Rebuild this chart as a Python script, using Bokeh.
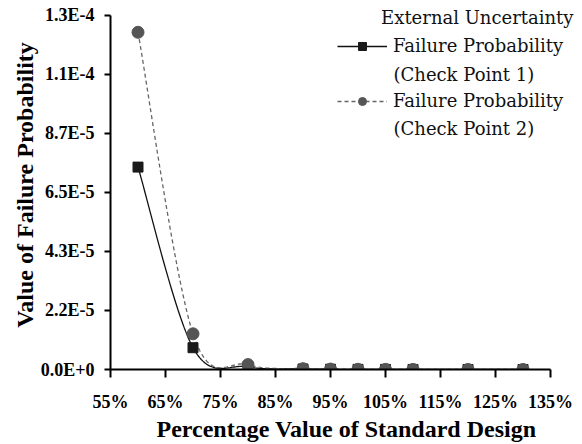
import numpy as np
from bokeh.plotting import figure
from bokeh.models import Range1d, FixedTicker, Legend, LegendItem, Label, CustomJSTickFormatter
from bokeh.embed import file_html
from bokeh.resources import INLINE

# ---- data ----
design_pct = [60, 70, 80, 90, 95, 100, 105, 110, 120, 130]
fp_check1 = [7.43e-5, 8.0e-6, 1.0e-6, 2.0e-7, 1.0e-7, 5e-8, 3e-8, 2e-8, 1e-8, 5e-9]
fp_check2 = [1.238e-4, 1.31e-5, 1.8e-6, 3.0e-7, 1.5e-7, 8e-8, 5e-8, 3e-8, 1.5e-8, 1e-8]

x_ticks = [55, 65, 75, 85, 95, 105, 115, 125, 135]
x_tick_labels = ["55%", "65%", "75%", "85%", "95%", "105%", "115%", "125%", "135%"]
y_ticks = [0.0, 2.1667e-5, 4.3333e-5, 6.5e-5, 8.6667e-5, 1.0833e-4, 1.3e-4]
y_tick_labels = ["0.0E+0", "2.2E-5", "4.3E-5", "6.5E-5", "8.7E-5", "1.1E-4", "1.3E-4"]

legend_title = "External Uncertainty"
series_names = ["Failure Probability", "Failure Probability"]
series_sub = ["(Check Point 1)", "(Check Point 2)"]


def smooth(xs, ys, n=40):
    """Smoothed (Catmull-Rom style Bezier) path through the data points, like a spreadsheet's smoothed line."""
    pts = np.column_stack([xs, ys]).astype(float)
    m = len(pts)
    out = []
    for i in range(m - 1):
        p0 = pts[max(i - 1, 0)]
        p1 = pts[i]
        p2 = pts[i + 1]
        p3 = pts[min(i + 2, m - 1)]
        c1 = p1 + (p2 - p0) / 6.0
        c2 = p2 - (p3 - p1) / 6.0
        t = np.linspace(0, 1, n, endpoint=(i == m - 2))[:, None]
        seg = (1 - t) ** 3 * p1 + 3 * t * (1 - t) ** 2 * c1 + 3 * t ** 2 * (1 - t) * c2 + t ** 3 * p2
        out.append(seg)
    arr = np.vstack(out)
    return arr[:, 0], arr[:, 1]


FONT = "Liberation Serif"

# axis spans 55..135 over 440 px and 0..1.3e-4 over 357 px; the frame extends a bit
# beyond the axes (right and top) so the legend text is not clipped
X0, X1, Y0, Y1 = x_ticks[0], x_ticks[-1], y_ticks[0], y_ticks[-1]
x_end = X1 + 32 * (X1 - X0) / 440.0
y_end = Y1 + 15 * (Y1 - Y0) / 357.0

p = figure(width=582, height=444, output_backend="svg", toolbar_location=None,
           x_range=Range1d(X0, x_end), y_range=Range1d(Y0, y_end),
           min_border_left=110, min_border_right=0, min_border_top=0, min_border_bottom=72,
           background_fill_color="white", border_fill_color="white")
p.outline_line_color = None
p.xgrid.visible = False
p.ygrid.visible = False

fmt_code = """
let best = 0;
for (let i = 0; i < vals.length; i++) {
  if (Math.abs(vals[i] - tick) < Math.abs(vals[best] - tick)) best = i;
}
return labels[best];
"""
p.xaxis.ticker = FixedTicker(ticks=x_ticks)
p.xaxis.formatter = CustomJSTickFormatter(args=dict(vals=x_ticks, labels=x_tick_labels), code=fmt_code)
p.yaxis.ticker = FixedTicker(ticks=y_ticks)
p.yaxis.formatter = CustomJSTickFormatter(args=dict(vals=y_ticks, labels=y_tick_labels), code=fmt_code)
p.xaxis.bounds = (X0, X1)
p.yaxis.bounds = (Y0, Y1)

p.xaxis.axis_label = "Percentage Value of Standard Design"
p.yaxis.axis_label = "Value of Failure Probability"

for ax in (p.xaxis[0], p.yaxis[0]):
    ax.axis_line_width = 2
    ax.axis_line_color = "black"
    ax.major_tick_line_width = 2
    ax.major_tick_line_color = "black"
    ax.major_tick_in = 0
    ax.minor_tick_in = 0
    ax.minor_tick_out = 0
    ax.major_label_text_font = FONT
    ax.major_label_text_font_style = "bold"
    ax.major_label_text_font_size = "18px"
    ax.major_label_text_color = "black"
    ax.axis_label_text_font = FONT
    ax.axis_label_text_font_style = "bold"
    ax.axis_label_text_font_size = "24px"
    ax.axis_label_text_color = "black"

p.xaxis.major_tick_out = 8
p.xaxis.major_label_standoff = 14
p.xaxis.axis_label_standoff = 1
p.yaxis.major_tick_out = 6
p.yaxis.major_label_standoff = 10
p.yaxis.axis_label_standoff = 0

sx1, sy1 = smooth(design_pct, fp_check1)
sx2, sy2 = smooth(design_pct, fp_check2)

l1 = p.line(sx1, sy1, line_color="#111111", line_width=1.3)
l2 = p.line(sx2, sy2, line_color="#666666", line_width=1.3, line_dash="4 3")
s1 = p.scatter(design_pct, fp_check1, marker="square", size=10,
               fill_color="#1a1a1a", line_color="#1a1a1a")
s2 = p.scatter(design_pct, fp_check2, marker="circle", size=12,
               fill_color="#555555", line_color="#555555")

legend = Legend(items=[LegendItem(label=series_names[0], renderers=[l1, s1]),
                       LegendItem(label=series_names[1], renderers=[l2, s2])],
                location=(227, 258), glyph_width=50, glyph_height=20, label_height=20,
                label_standoff=6, spacing=34, padding=0, margin=0,
                border_line_color=None, background_fill_alpha=0,
                label_text_font="DejaVu Serif", label_text_font_size="18px",
                label_text_color="#111111")
p.add_layout(legend)

lab_style = dict(x_units="screen", y_units="screen", text_font="DejaVu Serif",
                 text_font_size="18px", text_color="#111111", text_baseline="middle")
p.add_layout(Label(x=463, y=352, text=legend_title, text_align="right", **lab_style))
p.add_layout(Label(x=283, y=295, text=series_sub[0], text_align="left", **lab_style))
p.add_layout(Label(x=283, y=241, text=series_sub[1], text_align="left", **lab_style))

open("out.html", "w").write(file_html(p, INLINE))
